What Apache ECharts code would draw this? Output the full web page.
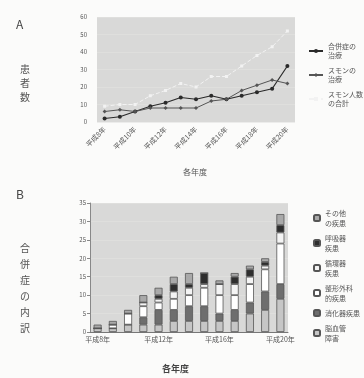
<!DOCTYPE html>
<html>
<head>
<meta charset="utf-8">
<script src="https://cdn.jsdelivr.net/npm/echarts@6/dist/echarts.min.js"></script>
<style>
  html, body { margin: 0; padding: 0; background: #fbfbfa; }
  #chart { width: 364px; height: 378px; }
</style>
</head>
<body>
<div id="chart"></div>
<script>
var years = ['平成8年', '平成9年', '平成10年', '平成11年', '平成12年', '平成13年', '平成14年',
             '平成15年', '平成16年', '平成17年', '平成18年', '平成19年', '平成20年'];

// A: 患者数
var gappeiTreat = [2, 3, 6, 9, 11, 14, 13, 15, 13, 15, 17, 19, 32];
var smonTreat = [6, 7, 6, 8, 8, 8, 8, 12, 13, 18, 21, 24, 22];
var smonTotal = [9, 10, 10, 15, 18, 22, 20, 26, 26, 32, 38, 43, 52];

// B: 合併症の内訳 (stack bottom -> top)
var noukekkan = [1, 1, 2, 2, 2, 3, 3, 3, 3, 3, 5, 6, 9];
var shoukaki = [0, 0, 0, 2, 4, 3, 4, 4, 2, 3, 3, 5, 4];
var seikei = [0, 1, 3, 3, 2, 3, 3, 5, 5, 4, 5, 6, 11];
var junkanki = [0, 0, 0, 1, 1, 2, 2, 1, 3, 3, 2, 1, 3];
var kokyuki = [0, 0, 0, 0, 1, 2, 1, 3, 0, 2, 2, 1, 2];
var sonota = [1, 1, 1, 2, 2, 2, 3, 0, 1, 1, 1, 1, 3];

var chart = echarts.init(document.getElementById('chart'));
var txt = '#555';
var font = 'Noto Sans CJK JP';

function barSeries(name, data, color) {
    return {
        name: name, type: 'bar', stack: 'b', xAxisIndex: 1, yAxisIndex: 1,
        barWidth: 8, data: data,
        itemStyle: { color: color, borderColor: '#555', borderWidth: 0.8 }
    };
}

var option = {
    backgroundColor: '#fbfbfa',
    textStyle: { fontFamily: font, color: txt },
    animation: false,
    grid: [
        { left: 97, top: 17, width: 198, height: 105, show: true, backgroundColor: '#d9d9d8', borderWidth: 0 },
        { left: 90, top: 203, width: 198, height: 129, show: true, backgroundColor: '#d9d9d8', borderWidth: 0 }
    ],
    legend: [
        {
            orient: 'vertical', left: 303, top: 37, itemGap: 6, itemWidth: 14, itemHeight: 5,
            textStyle: { fontSize: 7, color: txt, lineHeight: 9 },
            data: ['合併症の\n治療', 'スモンの\n治療', 'スモン人数\nの合計']
        },
        {
            orient: 'vertical', left: 308, top: 203, itemGap: 5, itemWidth: 6, itemHeight: 6,
            textStyle: { fontSize: 7, color: txt, lineHeight: 10 },
            data: ['その他\nの疾患', '呼吸器\n疾患', '循環器\n疾患', '整形外科\n的疾患', '消化器疾患', '脳血管\n障害']
        }
    ],
    xAxis: [
        {
            type: 'category', gridIndex: 0, data: years, boundaryGap: true,
            axisLine: { show: false }, axisTick: { show: false },
            axisLabel: { rotate: 45, interval: 1, fontSize: 7, color: txt, margin: 6 }
        },
        {
            type: 'category', gridIndex: 1, data: years, boundaryGap: true,
            axisLine: { lineStyle: { color: '#777' } }, axisTick: { show: false },
            axisLabel: { interval: 3, fontSize: 7, color: txt, margin: 4 }
        }
    ],
    yAxis: [
        {
            type: 'value', gridIndex: 0, min: 0, max: 60, interval: 10,
            axisLine: { show: false }, axisTick: { show: false },
            axisLabel: { fontSize: 6, color: txt, margin: 10 },
            splitLine: { lineStyle: { color: '#e2e2e1', width: 0.6 } }
        },
        {
            type: 'value', gridIndex: 1, min: 0, max: 35, interval: 5,
            axisLine: { show: true, lineStyle: { color: '#888' } },
            axisTick: { show: true, length: 3, lineStyle: { color: '#888' } },
            axisLabel: { fontSize: 6, color: txt, margin: 4 },
            splitLine: { lineStyle: { color: '#e2e2e1', width: 0.6 } }
        }
    ],
    series: [
        {
            name: '合併症の\n治療', type: 'line', data: gappeiTreat, xAxisIndex: 0, yAxisIndex: 0,
            symbol: 'circle', symbolSize: 4,
            lineStyle: { color: '#2a2a2a', width: 1.2 }, itemStyle: { color: '#2a2a2a' }
        },
        {
            name: 'スモンの\n治療', type: 'line', data: smonTreat, xAxisIndex: 0, yAxisIndex: 0,
            symbol: 'diamond', symbolSize: 4,
            lineStyle: { color: '#555', width: 1 }, itemStyle: { color: '#555' }
        },
        {
            name: 'スモン人数\nの合計', type: 'line', data: smonTotal, xAxisIndex: 0, yAxisIndex: 0,
            symbol: 'rect', symbolSize: 3,
            lineStyle: { color: '#f2f2f2', width: 1, type: 'dashed' }, itemStyle: { color: '#f2f2f2' }
        },
        barSeries('脳血管\n障害', noukekkan, '#c6c6c6'),
        barSeries('消化器疾患', shoukaki, '#6e6e6e'),
        barSeries('整形外科\n的疾患', seikei, '#ffffff'),
        barSeries('循環器\n疾患', junkanki, '#f4f4f4'),
        barSeries('呼吸器\n疾患', kokyuki, '#2e2e2e'),
        barSeries('その他\nの疾患', sonota, '#a9a9a9')
    ],
    graphic: [
        { type: 'text', left: 16, top: 18, style: { text: 'A', fontSize: 12, fill: '#444', fontFamily: font } },
        { type: 'text', left: 16, top: 188, style: { text: 'B', fontSize: 12, fill: '#444', fontFamily: font } },
        { type: 'text', left: 20, top: 62, style: { text: '患\n者\n数', fontSize: 10, lineHeight: 14, fill: '#555', fontFamily: font } },
        { type: 'text', left: 20, top: 240, style: { text: '合\n併\n症\nの\n内\n訳', fontSize: 10, lineHeight: 16, fill: '#555', fontFamily: font } },
        { type: 'text', left: 183, top: 168, style: { text: '各年度', fontSize: 8, fill: '#555', fontFamily: font } },
        { type: 'text', left: 162, top: 364, style: { text: '各年度', fontSize: 9, fill: '#444', fontWeight: 'bold', fontFamily: font } }
    ]
};
chart.setOption(option);
</script>
</body>
</html>
